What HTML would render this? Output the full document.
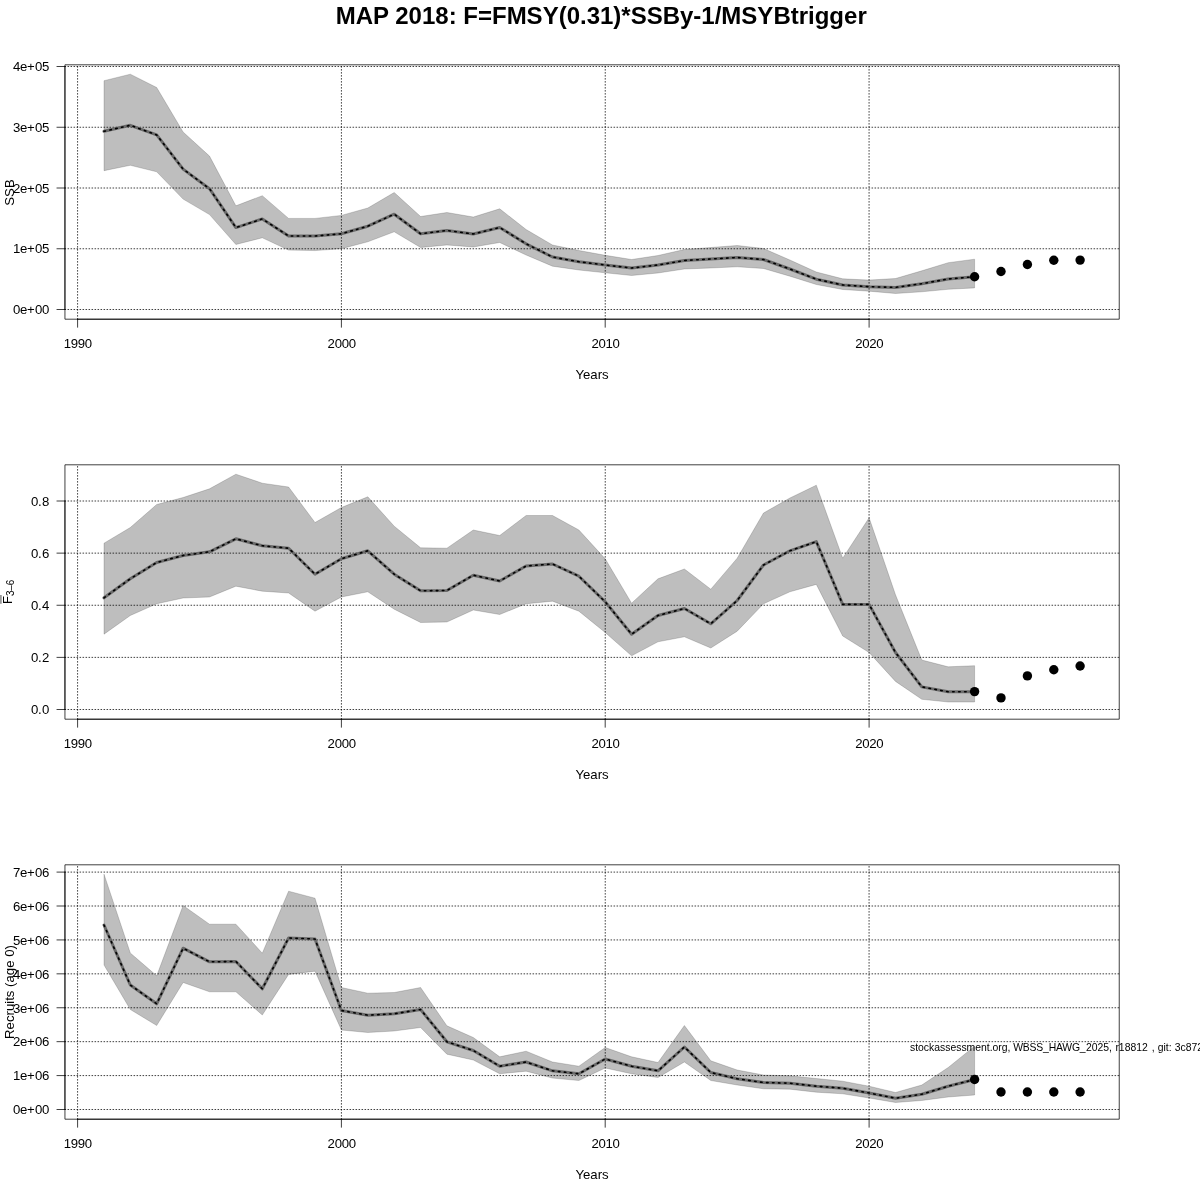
<!DOCTYPE html>
<html><head><meta charset="utf-8"><title>MAP 2018</title>
<style>
html,body{margin:0;padding:0;background:#fff;}
body{width:1200px;height:1200px;overflow:hidden;}
svg{display:block;will-change:transform;}
text{font-family:"Liberation Sans",sans-serif;fill:#000;}
.t{font-size:13.2px;}
.g{stroke:#000;stroke-width:0.75;stroke-dasharray:0.75 2.25;fill:none;stroke-linecap:round;}
.ax{stroke:#000;stroke-width:0.75;fill:none;stroke-linecap:round;}
.bx{stroke:#000;stroke-width:0.75;fill:none;stroke-linejoin:round;}
.pg{fill:rgba(0,0,0,0.255);stroke:rgba(0,0,0,0.22);stroke-width:0.75;stroke-linejoin:round;}
.l1{stroke:#6b6b6b;stroke-width:3;fill:none;stroke-linejoin:round;stroke-linecap:round;}
.l2{stroke:#000;stroke-width:1.6;fill:none;stroke-linejoin:round;stroke-linecap:round;stroke-dasharray:1.5 4.5;}
</style></head><body>
<svg width="1200" height="1200" viewBox="0 0 1200 1200">
<rect width="1200" height="1200" fill="#fff"/>
<text x="601.2" y="23.8" text-anchor="middle" font-size="24" font-weight="bold">MAP 2018: F=FMSY(0.31)*SSBy-1/MSYBtrigger</text>

<g>
<rect class="bx" x="64.94" y="64.8" width="1054.3" height="254.4"/>
<path class="ax" d="M77.6 319.22H869.1M77.6 319.22v8M341.4 319.22v8M605.2 319.22v8M869.1 319.22v8"/>
<path class="ax" d="M64.94 309.5V66.5M64.94 309.5h-8M64.94 248.75h-8M64.94 188.0h-8M64.94 127.25h-8M64.94 66.5h-8"/>
<text class="t" x="78.0" y="348" transform="translate(0,0)" text-anchor="middle" dx="0 -0.34 -0.34 -0.34">1990</text>
<text class="t" x="341.8" y="348" transform="translate(0,0)" text-anchor="middle" dx="0 -0.34 -0.34 -0.34">2000</text>
<text class="t" x="605.6" y="348" transform="translate(0,0)" text-anchor="middle" dx="0 -0.34 -0.34 -0.34">2010</text>
<text class="t" x="869.5" y="348" transform="translate(0,0)" text-anchor="middle" dx="0 -0.34 -0.34 -0.34">2020</text>
<text class="t" x="49.3" y="314.2" text-anchor="end" dx="0 -0.34 -0.34 0.29 -0.34">0e+00</text>
<text class="t" x="49.3" y="253.4" text-anchor="end" dx="0 -0.34 -0.34 0.29 -0.34">1e+05</text>
<text class="t" x="49.3" y="192.7" text-anchor="end" dx="0 -0.34 -0.34 0.29 -0.34">2e+05</text>
<text class="t" x="49.3" y="131.9" text-anchor="end" dx="0 -0.34 -0.34 0.29 -0.34">3e+05</text>
<text class="t" x="49.3" y="71.2" text-anchor="end" dx="0 -0.34 -0.34 0.29 -0.34">4e+05</text>
<text class="t" x="592" y="379" text-anchor="middle">Years</text>
<path class="g" d="M77.58 319.22V64.8M341.41 319.22V64.8M605.24 319.22V64.8M869.07 319.22V64.8M64.94 309.5H1119.22M64.94 248.75H1119.22M64.94 188.0H1119.22M64.94 127.25H1119.22M64.94 66.5H1119.22"/>
<polygon class="pg" points="104.0,80.7 130.3,74.2 156.7,87.5 183.1,132.0 209.5,156.1 235.9,205.8 262.3,195.7 288.6,218.4 315.0,218.4 341.4,215.4 367.8,208.0 394.2,192.5 420.6,216.5 446.9,212.5 473.3,217.0 499.7,208.8 526.1,229.5 552.5,245.0 578.9,250.5 605.2,255.3 631.6,259.5 658.0,255.5 684.4,249.5 710.8,247.5 737.2,245.5 763.5,248.5 789.9,260.0 816.3,272.0 842.7,278.8 869.1,280.1 895.5,278.5 921.8,270.8 948.2,262.7 974.6,259.2 974.6,287.9 948.2,289.3 921.8,291.8 895.5,293.5 869.1,291.2 842.7,289.5 816.3,284.5 789.9,276.2 763.5,268.5 737.2,266.8 710.8,268.0 684.4,269.0 658.0,273.0 631.6,275.5 605.2,272.8 578.9,270.0 552.5,266.2 526.1,255.0 499.7,242.5 473.3,247.0 446.9,245.0 420.6,247.5 394.2,231.8 367.8,241.8 341.4,248.7 315.0,250.6 288.6,250.1 262.3,237.8 235.9,244.5 209.5,214.6 183.1,199.1 156.7,171.8 130.3,165.3 104.0,170.7"/>
<polyline class="l1" points="104.0,131.3 130.3,125.3 156.7,134.9 183.1,169.1 209.5,188.7 235.9,227.6 262.3,218.9 288.6,236.0 315.0,236.0 341.4,233.8 367.8,226.2 394.2,214.2 420.6,233.8 446.9,230.5 473.3,234.0 499.7,227.5 526.1,243.8 552.5,257.0 578.9,261.8 605.2,265.0 631.6,268.0 658.0,265.0 684.4,260.5 710.8,259.0 737.2,257.5 763.5,259.5 789.9,269.0 816.3,279.2 842.7,285.0 869.1,286.7 895.5,287.4 921.8,283.7 948.2,279.0 974.6,276.7"/>
<polyline class="l2" points="104.0,131.3 130.3,125.3 156.7,134.9 183.1,169.1 209.5,188.7 235.9,227.6 262.3,218.9 288.6,236.0 315.0,236.0 341.4,233.8 367.8,226.2 394.2,214.2 420.6,233.8 446.9,230.5 473.3,234.0 499.7,227.5 526.1,243.8 552.5,257.0 578.9,261.8 605.2,265.0 631.6,268.0 658.0,265.0 684.4,260.5 710.8,259.0 737.2,257.5 763.5,259.5 789.9,269.0 816.3,279.2 842.7,285.0 869.1,286.7 895.5,287.4 921.8,283.7 948.2,279.0 974.6,276.7"/>
<circle cx="974.6" cy="276.7" r="4.7"/>
<circle cx="1001.0" cy="271.5" r="4.7"/>
<circle cx="1027.4" cy="264.5" r="4.7"/>
<circle cx="1053.8" cy="260.3" r="4.7"/>
<circle cx="1080.1" cy="260.1" r="4.7"/>
</g>
<g>
<rect class="bx" x="64.94" y="464.8" width="1054.3" height="254.4"/>
<path class="ax" d="M77.6 719.22H869.1M77.6 719.22v8M341.4 719.22v8M605.2 719.22v8M869.1 719.22v8"/>
<path class="ax" d="M64.94 709.5V501.0M64.94 709.5h-8M64.94 657.38h-8M64.94 605.25h-8M64.94 553.13h-8M64.94 501.0h-8"/>
<text class="t" x="78.0" y="348" transform="translate(0,400)" text-anchor="middle" dx="0 -0.34 -0.34 -0.34">1990</text>
<text class="t" x="341.8" y="348" transform="translate(0,400)" text-anchor="middle" dx="0 -0.34 -0.34 -0.34">2000</text>
<text class="t" x="605.6" y="348" transform="translate(0,400)" text-anchor="middle" dx="0 -0.34 -0.34 -0.34">2010</text>
<text class="t" x="869.5" y="348" transform="translate(0,400)" text-anchor="middle" dx="0 -0.34 -0.34 -0.34">2020</text>
<text class="t" x="49.3" y="714.2" text-anchor="end" dx="0 -0.34 0.33">0.0</text>
<text class="t" x="49.3" y="662.1" text-anchor="end" dx="0 -0.34 0.33">0.2</text>
<text class="t" x="49.3" y="610.0" text-anchor="end" dx="0 -0.34 0.33">0.4</text>
<text class="t" x="49.3" y="557.8" text-anchor="end" dx="0 -0.34 0.33">0.6</text>
<text class="t" x="49.3" y="505.7" text-anchor="end" dx="0 -0.34 0.33">0.8</text>
<text class="t" x="592" y="779" text-anchor="middle">Years</text>
<path class="g" d="M77.58 719.22V464.8M341.41 719.22V464.8M605.24 719.22V464.8M869.07 719.22V464.8M64.94 709.5H1119.22M64.94 657.38H1119.22M64.94 605.25H1119.22M64.94 553.13H1119.22M64.94 501.0H1119.22"/>
<polygon class="pg" points="104.0,543.2 130.3,527.5 156.7,504.5 183.1,497.5 209.5,488.8 235.9,474.2 262.3,483.2 288.6,487.0 315.0,522.5 341.4,507.5 367.8,496.8 394.2,526.2 420.6,547.8 446.9,548.2 473.3,530.0 499.7,535.5 526.1,515.5 552.5,515.5 578.9,530.0 605.2,558.8 631.6,603.2 658.0,578.8 684.4,569.0 710.8,589.2 737.2,558.2 763.5,513.0 789.9,498.0 816.3,485.2 842.7,558.2 869.1,517.8 895.5,594.8 921.8,660.0 948.2,666.8 974.6,665.7 974.6,702.0 948.2,702.0 921.8,699.3 895.5,681.4 869.1,652.5 842.7,636.0 816.3,584.4 789.9,591.8 763.5,603.8 737.2,631.2 710.8,648.0 684.4,636.8 658.0,641.8 631.6,655.8 605.2,632.5 578.9,611.2 552.5,601.2 526.1,603.8 499.7,614.5 473.3,610.0 446.9,622.0 420.6,622.5 394.2,609.2 367.8,591.8 341.4,597.0 315.0,611.2 288.6,593.0 262.3,591.2 235.9,586.2 209.5,597.0 183.1,598.0 156.7,603.8 130.3,615.5 104.0,634.2"/>
<polyline class="l1" points="104.0,597.8 130.3,578.8 156.7,562.5 183.1,555.5 209.5,551.8 235.9,538.8 262.3,545.8 288.6,548.2 315.0,574.2 341.4,558.8 367.8,550.8 394.2,574.2 420.6,590.8 446.9,590.5 473.3,575.2 499.7,581.0 526.1,566.0 552.5,564.0 578.9,576.2 605.2,601.8 631.6,634.2 658.0,615.5 684.4,608.5 710.8,623.8 737.2,600.5 763.5,565.0 789.9,550.8 816.3,541.6 842.7,604.4 869.1,604.4 895.5,652.5 921.8,686.9 948.2,691.8 974.6,691.8"/>
<polyline class="l2" points="104.0,597.8 130.3,578.8 156.7,562.5 183.1,555.5 209.5,551.8 235.9,538.8 262.3,545.8 288.6,548.2 315.0,574.2 341.4,558.8 367.8,550.8 394.2,574.2 420.6,590.8 446.9,590.5 473.3,575.2 499.7,581.0 526.1,566.0 552.5,564.0 578.9,576.2 605.2,601.8 631.6,634.2 658.0,615.5 684.4,608.5 710.8,623.8 737.2,600.5 763.5,565.0 789.9,550.8 816.3,541.6 842.7,604.4 869.1,604.4 895.5,652.5 921.8,686.9 948.2,691.8 974.6,691.8"/>
<circle cx="974.6" cy="691.6" r="4.7"/>
<circle cx="1001.0" cy="697.9" r="4.7"/>
<circle cx="1027.4" cy="675.9" r="4.7"/>
<circle cx="1053.8" cy="669.8" r="4.7"/>
<circle cx="1080.1" cy="666.0" r="4.7"/>
</g>
<g>
<rect class="bx" x="64.94" y="864.8" width="1054.3" height="254.4"/>
<path class="ax" d="M77.6 1119.22H869.1M77.6 1119.22v8M341.4 1119.22v8M605.2 1119.22v8M869.1 1119.22v8"/>
<path class="ax" d="M64.94 1109.5V872.1M64.94 1109.5h-8M64.94 1075.59h-8M64.94 1041.67h-8M64.94 1007.76h-8M64.94 973.84h-8M64.94 939.93h-8M64.94 906.0h-8M64.94 872.1h-8"/>
<text class="t" x="78.0" y="348" transform="translate(0,800)" text-anchor="middle" dx="0 -0.34 -0.34 -0.34">1990</text>
<text class="t" x="341.8" y="348" transform="translate(0,800)" text-anchor="middle" dx="0 -0.34 -0.34 -0.34">2000</text>
<text class="t" x="605.6" y="348" transform="translate(0,800)" text-anchor="middle" dx="0 -0.34 -0.34 -0.34">2010</text>
<text class="t" x="869.5" y="348" transform="translate(0,800)" text-anchor="middle" dx="0 -0.34 -0.34 -0.34">2020</text>
<text class="t" x="49.3" y="1114.2" text-anchor="end" dx="0 -0.34 -0.34 0.29 -0.34">0e+00</text>
<text class="t" x="49.3" y="1080.3" text-anchor="end" dx="0 -0.34 -0.34 0.29 -0.34">1e+06</text>
<text class="t" x="49.3" y="1046.4" text-anchor="end" dx="0 -0.34 -0.34 0.29 -0.34">2e+06</text>
<text class="t" x="49.3" y="1012.5" text-anchor="end" dx="0 -0.34 -0.34 0.29 -0.34">3e+06</text>
<text class="t" x="49.3" y="978.5" text-anchor="end" dx="0 -0.34 -0.34 0.29 -0.34">4e+06</text>
<text class="t" x="49.3" y="944.6" text-anchor="end" dx="0 -0.34 -0.34 0.29 -0.34">5e+06</text>
<text class="t" x="49.3" y="910.7" text-anchor="end" dx="0 -0.34 -0.34 0.29 -0.34">6e+06</text>
<text class="t" x="49.3" y="876.8" text-anchor="end" dx="0 -0.34 -0.34 0.29 -0.34">7e+06</text>
<text class="t" x="592" y="1179" text-anchor="middle">Years</text>
<path class="g" d="M77.58 1119.22V864.8M341.41 1119.22V864.8M605.24 1119.22V864.8M869.07 1119.22V864.8M64.94 1109.5H1119.22M64.94 1075.59H1119.22M64.94 1041.67H1119.22M64.94 1007.76H1119.22M64.94 973.84H1119.22M64.94 939.93H1119.22M64.94 906.0H1119.22M64.94 872.1H1119.22"/>
<polygon class="pg" points="104.0,874.2 130.3,953.0 156.7,975.8 183.1,905.5 209.5,924.2 235.9,924.2 262.3,953.2 288.6,891.2 315.0,898.2 341.4,987.5 367.8,993.2 394.2,992.5 420.6,987.5 446.9,1025.8 473.3,1037.5 499.7,1056.8 526.1,1051.2 552.5,1062.0 578.9,1066.2 605.2,1047.5 631.6,1056.8 658.0,1062.5 684.4,1025.5 710.8,1060.8 737.2,1070.0 763.5,1075.0 789.9,1075.8 816.3,1078.5 842.7,1081.2 869.1,1086.2 895.5,1092.5 921.8,1085.0 948.2,1067.5 974.6,1046.2 974.6,1095.0 948.2,1097.0 921.8,1100.5 895.5,1102.5 869.1,1098.0 842.7,1093.8 816.3,1092.2 789.9,1089.2 763.5,1088.8 737.2,1085.0 710.8,1080.5 684.4,1062.0 658.0,1077.5 631.6,1073.8 605.2,1068.0 578.9,1080.5 552.5,1078.1 526.1,1071.2 499.7,1073.8 473.3,1060.0 446.9,1054.2 420.6,1027.5 394.2,1031.0 367.8,1032.5 341.4,1030.0 315.0,971.2 288.6,974.4 262.3,1015.0 235.9,991.8 209.5,991.8 183.1,982.5 156.7,1025.5 130.3,1009.5 104.0,965.0"/>
<polyline class="l1" points="104.0,925.0 130.3,985.0 156.7,1003.8 183.1,948.2 209.5,961.8 235.9,961.5 262.3,988.8 288.6,938.0 315.0,939.0 341.4,1010.5 367.8,1015.2 394.2,1013.8 420.6,1009.5 446.9,1041.8 473.3,1050.5 499.7,1066.2 526.1,1062.0 552.5,1070.8 578.9,1073.8 605.2,1059.0 631.6,1066.2 658.0,1070.8 684.4,1047.0 710.8,1072.5 737.2,1078.8 763.5,1082.5 789.9,1083.2 816.3,1086.2 842.7,1088.2 869.1,1093.0 895.5,1098.2 921.8,1094.2 948.2,1086.2 974.6,1079.5"/>
<polyline class="l2" points="104.0,925.0 130.3,985.0 156.7,1003.8 183.1,948.2 209.5,961.8 235.9,961.5 262.3,988.8 288.6,938.0 315.0,939.0 341.4,1010.5 367.8,1015.2 394.2,1013.8 420.6,1009.5 446.9,1041.8 473.3,1050.5 499.7,1066.2 526.1,1062.0 552.5,1070.8 578.9,1073.8 605.2,1059.0 631.6,1066.2 658.0,1070.8 684.4,1047.0 710.8,1072.5 737.2,1078.8 763.5,1082.5 789.9,1083.2 816.3,1086.2 842.7,1088.2 869.1,1093.0 895.5,1098.2 921.8,1094.2 948.2,1086.2 974.6,1079.5"/>
<circle cx="974.6" cy="1079.5" r="4.7"/>
<circle cx="1001.0" cy="1092.0" r="4.7"/>
<circle cx="1027.4" cy="1092.0" r="4.7"/>
<circle cx="1053.8" cy="1092.0" r="4.7"/>
<circle cx="1080.1" cy="1092.0" r="4.7"/>
</g>
<text class="t" transform="translate(14.2,192.5) rotate(-90)" text-anchor="middle">SSB</text>
<text class="t" transform="translate(12,604) rotate(-90)">F<tspan font-size="10" dy="2.25" letter-spacing="-0.25">3–6</tspan></text>
<rect x="0" y="595" width="1.75" height="8.8" fill="#999"/>
<text class="t" transform="translate(14.2,992) rotate(-90)" text-anchor="middle">Recruits (age 0)</text>
<text y="1050.5" font-size="10.4"><tspan x="910">stockassessment.org,</tspan><tspan x="1013.2" textLength="72.4" lengthAdjust="spacing">WBSS_HAWG_</tspan><tspan x="1085.9">2025,</tspan><tspan x="1115.4">r18812</tspan><tspan x="1151.7">,</tspan><tspan x="1157.7">git:</tspan><tspan x="1174.7">3c872a4</tspan></text>
</svg></body></html>
